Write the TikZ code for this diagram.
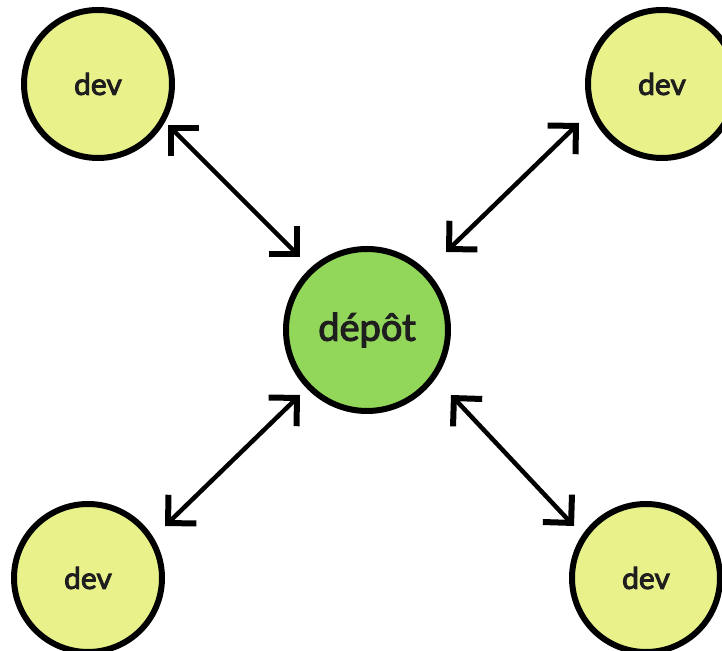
\documentclass[tikz,border=0pt]{standalone}
\usepackage{fontspec}
\setmainfont{Lato}
\newfontfamily\labelfont{Lato}[FakeBold=3]
\usetikzlibrary{arrows.meta,calc}
\definecolor{devfill}{RGB}{233,242,138}
\definecolor{depotfill}{RGB}{146,214,90}
\definecolor{txt}{RGB}{30,30,30}
\tikzset{
  devnode/.style={circle,draw=black,line width=6pt,fill=devfill,minimum size=148pt,inner sep=0pt,text=txt,font=\labelfont\fontsize{30}{32}\selectfont},
  depotnode/.style={circle,draw=black,line width=6pt,fill=depotfill,minimum size=162pt,inner sep=0pt,text=txt,font=\labelfont\fontsize{38}{40}\selectfont},
  arr/.style={line width=4.5pt,black,{Straight Barb[length=20pt,width=40pt,line width=6pt]}-{Straight Barb[length=20pt,width=40pt,line width=6pt]}}
}
\begin{document}
\begin{tikzpicture}[x=1pt,y=1pt]
\useasboundingbox (0,0) rectangle (722,650);
\fill[white] (0,0) rectangle (722,650);
\node[devnode] (tl) at (98,566) {dev};
\node[devnode] (tr) at (662,566) {dev};
\node[devnode] (bl) at (88,72) {dev};
\node[devnode] (br) at (646,72) {dev};
\node[depotnode] (c) at (367,320) {dépôt};
\draw[arr] ($(tl)+(70,-41)$) -- ($(c)+(-67,73)$);
\draw[arr] ($(tr)+(-83,-39)$) -- ($(c)+(79,78)$);
\draw[arr] ($(bl)+(77,52)$) -- ($(c)+(-67,-65)$);
\draw[arr] ($(c)+(84,-65)$) -- ($(br)+(-72,52)$);
\end{tikzpicture}
\end{document}
